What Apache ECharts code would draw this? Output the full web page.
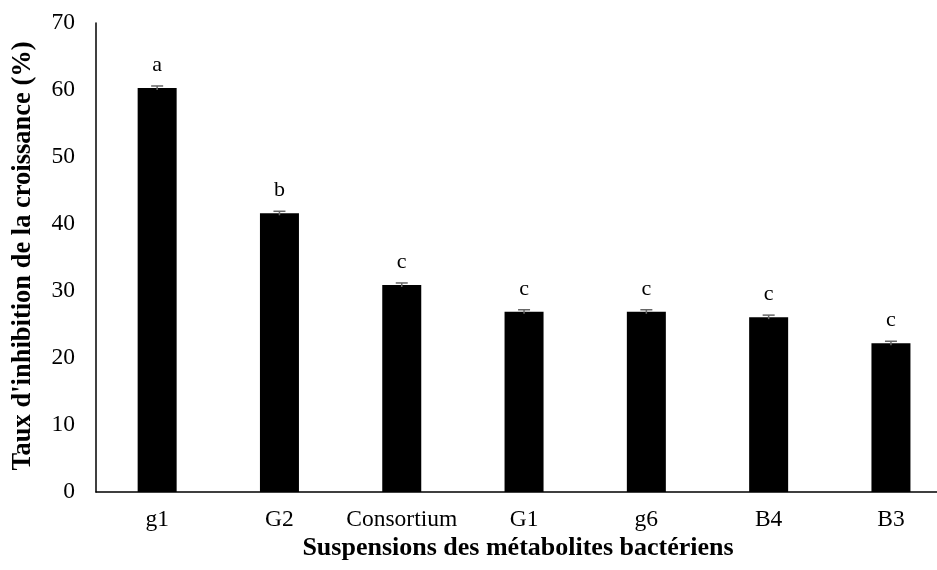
<!DOCTYPE html>
<html>
<head>
<meta charset="utf-8">
<script src="https://cdn.jsdelivr.net/npm/echarts@6/dist/echarts.min.js"></script>
<style>html,body{margin:0;padding:0;background:#fff}#c{width:937px;height:570px}</style>
</head>
<body>
<div id="c"></div>
<script>
const categories = ['g1', 'G2', 'Consortium', 'G1', 'g6', 'B4', 'B3'];
const values = [60.3, 41.6, 30.9, 26.9, 26.9, 26.1, 22.2];
const errors = [0.3, 0.3, 0.3, 0.3, 0.3, 0.3, 0.3];
const letters = ['a', 'b', 'c', 'c', 'c', 'c', 'c'];
const yTicks = [0, 10, 20, 30, 40, 50, 60, 70];

const FONT = '"Liberation Serif", "Times New Roman", serif';
// the plot area in the original extends past the right edge of the picture:
// each category band is ~122.3 px wide, starting at the y axis (x = 96)
const bandPx = 122.3;
const gridLeft = 96;
const xMax = (937 - gridLeft) / bandPx - 0.5;
const idx = categories.map((c, i) => i);

const chart = echarts.init(document.getElementById('c'));
chart.setOption({
  animation: false,
  grid: { left: gridLeft, top: 23, right: 0, bottom: 78, containLabel: false },
  xAxis: {
    type: 'value', min: -0.5, max: xMax,
    axisLine: { show: true, onZero: false, lineStyle: { color: '#000', width: 1.5 } },
    axisTick: { show: false },
    splitLine: { show: false },
    axisLabel: {
      customValues: idx,
      formatter: v => categories[Math.round(v)] || '',
      color: '#000', fontFamily: FONT, fontSize: 23.5, margin: 16
    }
  },
  yAxis: {
    type: 'value', min: yTicks[0], max: yTicks[yTicks.length - 1], interval: 10,
    axisLine: { show: true, onZero: false, lineStyle: { color: '#000', width: 1.5 } },
    axisTick: { show: false },
    splitLine: { show: false },
    axisLabel: { color: '#000', fontFamily: FONT, fontSize: 23.5, margin: 21 }
  },
  series: [
    {
      type: 'bar', data: values.map((v, i) => [i, v]), barWidth: 39,
      itemStyle: { color: '#000' },
      label: {
        show: true, position: 'top', distance: 12,
        formatter: p => letters[p.dataIndex],
        color: '#000', fontFamily: FONT, fontSize: 22
      }
    },
    {
      type: 'custom',
      data: values.map((v, i) => [i, v, errors[i]]),
      renderItem: (params, api) => {
        const x = api.value(0), v = api.value(1), e = api.value(2);
        const hi = api.coord([x, v + e]);
        const lo = api.coord([x, v - e]);
        const hw = 6;
        const style = { stroke: '#666', lineWidth: 1.5 };
        return {
          type: 'group', children: [
            { type: 'line', shape: { x1: hi[0], y1: hi[1], x2: lo[0], y2: lo[1] }, style },
            { type: 'line', shape: { x1: hi[0] - hw, y1: hi[1], x2: hi[0] + hw, y2: hi[1] }, style }
          ]
        };
      },
      z: 5
    }
  ],
  graphic: [
    {
      type: 'text', x: 518, y: 548,
      style: {
        text: 'Suspensions des métabolites bactériens', fontFamily: FONT,
        fontSize: 26, fontWeight: 'bold', fill: '#000',
        textAlign: 'center', textVerticalAlign: 'middle'
      }
    },
    {
      type: 'text', x: 23, y: 256, rotation: Math.PI / 2,
      style: {
        text: "Taux d'inhibition de la croissance (%)", fontFamily: FONT,
        fontSize: 26.5, fontWeight: 'bold', fill: '#000',
        textAlign: 'center', textVerticalAlign: 'middle'
      }
    }
  ]
});
</script>
</body>
</html>
